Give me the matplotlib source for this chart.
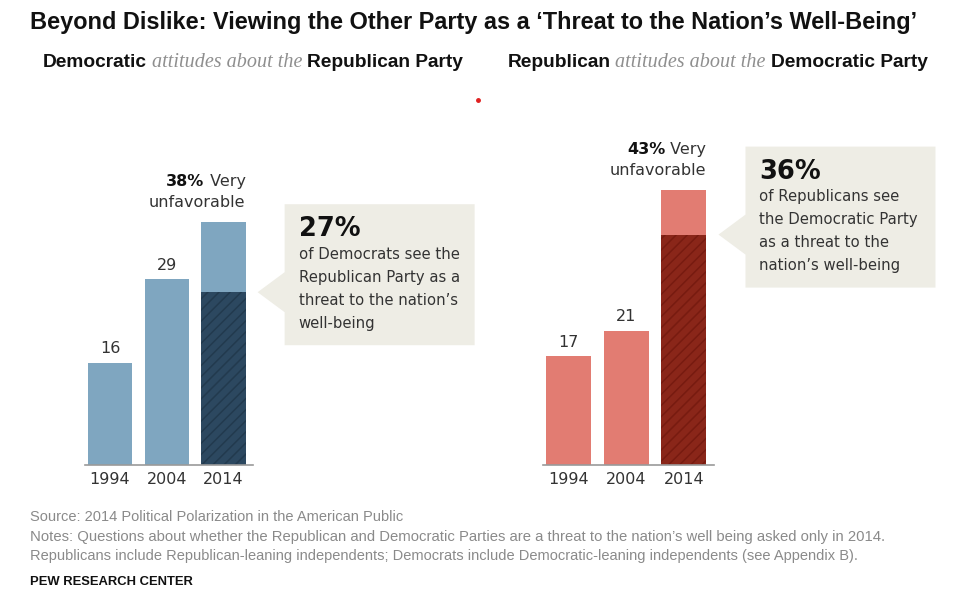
import matplotlib
matplotlib.use("Agg")
import matplotlib.pyplot as plt
from matplotlib.patches import Polygon

W, H = 960, 593

years = ["1994", "2004", "2014"]
dem_unfav = [16, 29, 38]
dem_threat = 27
rep_unfav = [17, 21, 43]
rep_threat = 36

title = "Beyond Dislike: Viewing the Other Party as a \u2018Threat to the Nation\u2019s Well-Being\u2019"
dem_sub = ["Democratic", "attitudes about the", "Republican Party"]
rep_sub = ["Republican", "attitudes about the", "Democratic Party"]
dem_box = ["of Democrats see the", "Republican Party as a", "threat to the nation\u2019s", "well-being"]
rep_box = ["of Republicans see", "the Democratic Party", "as a threat to the", "nation\u2019s well-being"]
notes = [
    "Source: 2014 Political Polarization in the American Public",
    "Notes: Questions about whether the Republican and Democratic Parties are a threat to the nation\u2019s well being asked only in 2014.",
    "Republicans include Republican-leaning independents; Democrats include Democratic-leaning independents (see Appendix B).",
]

HEAD = ["Liberation Sans", "DejaVu Sans"]
SERIF = ["Liberation Serif", "DejaVu Serif"]
BODY = ["DejaVu Sans"]
plt.rcParams["hatch.linewidth"] = 1.1

fig = plt.figure(figsize=(W / 100, H / 100), dpi=100)
fig.patch.set_facecolor("white")
fig.canvas.draw()
R = fig.canvas.get_renderer()


def fx(x):
    return x / W


def fy(y):
    return 1 - y / H


def fit_text(x0, y, s, x1, size, **kw):
    # shrink/grow the font so the text spans x0..x1 like the narrow original
    t = fig.text(fx(x0), fy(y), s, ha="left", fontsize=size, **kw)
    w = t.get_window_extent(renderer=R).width
    t.set_fontsize(size * (x1 - x0) / w)
    return t


def draw_panel(left, width, vals, threat, light, dark, stripe, box_lines):
    ax = fig.add_axes([fx(left), fy(465), width / W, 320 / H])
    x = range(len(vals))
    ax.bar(x, vals, width=0.78, color=light, linewidth=0)
    ax.bar(2, threat, width=0.78, color=dark, edgecolor=stripe, hatch="///", linewidth=0)
    ax.set_ylim(0, 50)
    ax.set_xlim(-0.44, 2.52)
    for s in ["top", "left", "right"]:
        ax.spines[s].set_visible(False)
    ax.spines["bottom"].set_color("#9a9a9a")
    ax.spines["bottom"].set_linewidth(1.2)
    ax.set_yticks([])
    ax.set_xticks(list(x))
    ax.set_xticklabels(years, fontsize=11.5, color="#333333", family=BODY)
    ax.tick_params(axis="x", length=0, pad=5)
    for i in range(2):
        ax.annotate(str(vals[i]), (i, vals[i]), xytext=(0, 14), textcoords="offset pixels",
                    ha="center", va="center", fontsize=11.5, color="#333333", family=BODY)
    # 2014 label
    ax.annotate("unfavorable", (2.39, vals[2]), xytext=(0, 19), textcoords="offset pixels",
                ha="right", va="center", fontsize=11.5, color="#333333", family=BODY)
    t = ax.annotate(" Very", (2.39, vals[2]), xytext=(0, 40), textcoords="offset pixels",
                    ha="right", va="center", fontsize=11.5, color="#333333", family=BODY)
    bb = t.get_window_extent(renderer=R)
    fig.text(bb.x0 / W, ((bb.y0 + bb.y1) / 2) / H, f"{vals[2]}%", ha="right", va="center",
             fontsize=11.5, fontweight="bold", color="#111111", family=BODY)

    # callout box pointing at top of the threat segment
    dx, dy = ax.transData.transform((2.39, threat))
    tip_x = dx + 12
    tip_y = H - dy
    bl = tip_x + 27
    top = tip_y - 88
    bot = top + 141
    pts = [(bl, top), (bl + 190, top), (bl + 190, bot), (bl, bot),
           (bl, tip_y + 20), (tip_x, tip_y), (bl, tip_y - 20)]
    fig.add_artist(Polygon([(fx(a), fy(b)) for a, b in pts], closed=True,
                           transform=fig.transFigure, facecolor="#eeede5", edgecolor="none"))
    fig.text(fx(bl + 14), fy(top + 25), f"{threat}%", ha="left", va="center",
             fontsize=18.5, fontweight="bold", color="#111111", family=BODY)
    for k, line in enumerate(box_lines):
        fig.text(fx(bl + 14), fy(top + 50 + 23 * k), line, ha="left", va="center",
                 fontsize=10.7, color="#333333", family=BODY)
    return ax


draw_panel(85, 168, dem_unfav, dem_threat, "#7fa6c0", "#2c4860", "#223a4e", dem_box)
draw_panel(543, 171, rep_unfav, rep_threat, "#e27c72", "#8a2619", "#771b10", rep_box)

# title
fit_text(30, 22, title, 917, 16, va="center", fontweight="bold", color="#111111", family=HEAD)

# subtitles: bold / italic serif / bold, laid out in a row and centred on the original span
sub_styles = [dict(fontweight="bold", color="#111111", family=HEAD, fontsize=13.8),
              dict(style="italic", color="#8f8f8f", family=SERIF, fontsize=14.5),
              dict(fontweight="bold", color="#111111", family=HEAD, fontsize=13.8)]
for parts, (a, b) in zip([dem_sub, rep_sub], [(40, 466), (506, 929)]):
    texts, x = [], 0
    for p, st in zip(parts, sub_styles):
        t = fig.text(0, fy(67), p, ha="left", va="baseline", **st)
        texts.append((t, x))
        x += t.get_window_extent(renderer=R).width + 5
    start = (a + b) / 2 - (x - 5) / 2
    for t, off in texts:
        t.set_x(fx(start + off))

# stray red dot in the original
fig.add_artist(plt.Line2D([fx(478)], [fy(100)], marker="o", markersize=2.5, color="#e02020",
                          transform=fig.transFigure))

note_ends = [403, 884, 854]
for k, (line, end) in enumerate(zip(notes, note_ends)):
    fit_text(30, 517 + 19.5 * k, line, end, 10, va="center", color="#8a8a8a", family=HEAD)
fit_text(30, 582, "PEW RESEARCH CENTER", 193, 10, va="center", fontweight="bold",
         color="#111111", family=HEAD)

fig.savefig("out.png", dpi=100, facecolor="white")
